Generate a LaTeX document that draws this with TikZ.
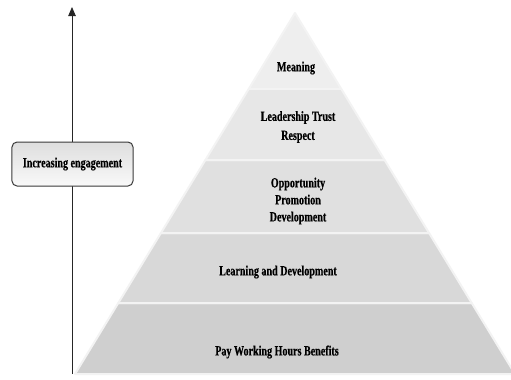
\documentclass[tikz,border=0pt]{standalone}
\usepackage{fontspec}
\usetikzlibrary{calc,arrows.meta}
\setmainfont{Liberation Serif}
\newfontfamily\labelfont[FakeStretch=0.72,FakeBold=0.6]{Liberation Serif Bold}
\definecolor{tierA}{HTML}{EEEEEE}
\definecolor{tierB}{HTML}{E7E7E7}
\definecolor{tierC}{HTML}{E0E0E0}
\definecolor{tierD}{HTML}{D8D8D8}
\definecolor{tierE}{HTML}{CFCFCF}
\definecolor{seam}{HTML}{F3F3F3}
\definecolor{boxtop}{HTML}{DEDEDE}
\definecolor{boxbot}{HTML}{F9F9F9}
\definecolor{boxline}{HTML}{3A3A3A}
\tikzset{
  tier/.style={draw=seam, line width=2bp, line join=round},
  tiertext/.style={font=\labelfont\fontsize{14bp}{17bp}\selectfont, align=center, inner sep=0pt},
  axis/.style={draw=black!85, line width=0.8bp, -{Triangle[length=9bp,width=7.5bp]}},
  tagbox/.style={draw=boxline, line width=1bp, rounded corners=5bp,
    top color=boxtop, bottom color=boxbot, minimum width=121bp, minimum height=44bp,
    font=\labelfont\fontsize{14bp}{17bp}\selectfont, inner sep=0pt}
}
\begin{document}
\begin{tikzpicture}[x=1bp, y=-1bp]
  \useasboundingbox (0,0) rectangle (511,379);
  \clip (0,0) rectangle (511,379);
  % pyramid outline
  \coordinate (apex) at (295,13);
  \coordinate (bl) at (75,374);
  \coordinate (br) at (515,374);
  % tier boundaries along the two slopes
  \foreach \n/\t in {1/0.2105, 2/0.4072, 3/0.6094, 4/0.8033} {
    \coordinate (l\n) at ($(apex)!\t!(bl)$);
    \coordinate (r\n) at ($(apex)!\t!(br)$);
  }
  \filldraw[tier, fill=tierE] (l4) -- (r4) -- (br) -- (bl) -- cycle;
  \filldraw[tier, fill=tierD] (l3) -- (r3) -- (r4) -- (l4) -- cycle;
  \filldraw[tier, fill=tierC] (l2) -- (r2) -- (r3) -- (l3) -- cycle;
  \filldraw[tier, fill=tierB] (l1) -- (r1) -- (r2) -- (l2) -- cycle;
  \filldraw[tier, fill=tierA] (apex) -- (r1) -- (l1) -- cycle;
  % tier labels
  \node[tiertext] (meaning) at (296,68) {Meaning};
  \node[tiertext, font=\labelfont\fontsize{14bp}{19bp}\selectfont] (trust) at (298,127) {Leadership Trust\\Respect};
  \node[tiertext] (opp) at (298,201) {Opportunity\\Promotion\\Development};
  \node[tiertext] (learn) at (278,272) {Learning and Development};
  \node[tiertext] (pay) at (277,352) {Pay Working Hours Benefits};
  % engagement axis
  \coordinate (axbot) at (72,374);
  \coordinate (axtop) at (72,7);
  \draw[axis] (axbot) -- (axtop);
  \node[tagbox] (eng) at (72.5,164) {Increasing engagement};
\end{tikzpicture}
\end{document}
